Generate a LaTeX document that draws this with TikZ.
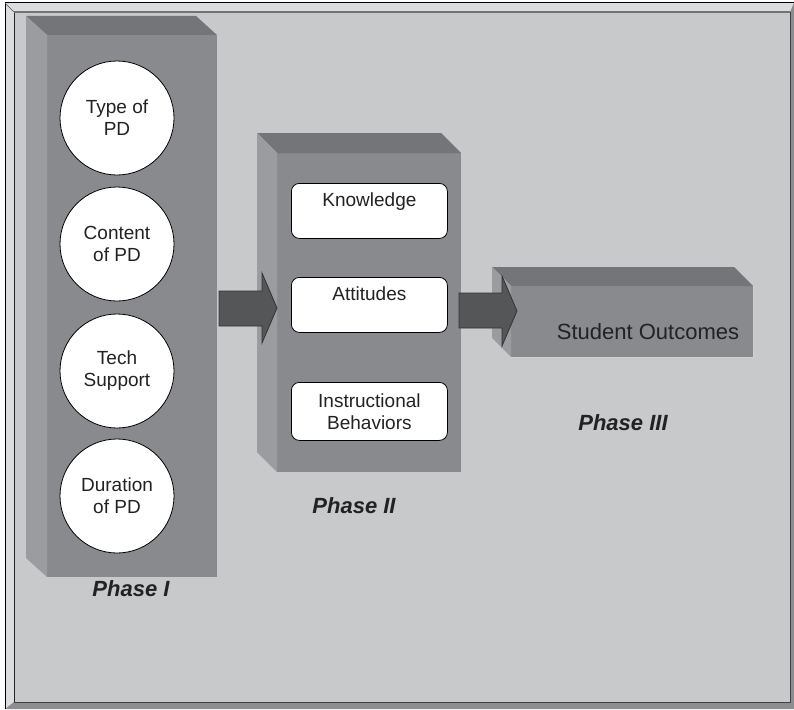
\documentclass[tikz,border=0pt]{standalone}
\usepackage{fontspec}
\setmainfont{Liberation Sans}
\usetikzlibrary{calc}
\definecolor{bg}{HTML}{C8C9CB}
\definecolor{bevlight}{HTML}{DCDDDF}
\definecolor{bevdark}{HTML}{8C8D90}
\definecolor{facefront}{HTML}{898A8D}
\definecolor{faceside}{HTML}{9B9C9F}
\definecolor{facetop}{HTML}{747578}
\definecolor{arrowfill}{HTML}{555658}
\definecolor{inktext}{HTML}{222222}
\begin{document}
\begin{tikzpicture}[x=1pt,y=-1pt,
  frontface/.style={fill=facefront, draw=none, inner sep=0pt, outer sep=0pt, anchor=north west},
  topface/.style={fill=facetop},
  sideface/.style={fill=faceside},
  factor/.style={circle, draw=black, line width=0.8pt, fill=white, minimum size=114pt,
    inner sep=0pt, align=center, font=\fontsize{19}{22}\selectfont, text=inktext},
  outcome/.style={rectangle, rounded corners=8pt, draw=black, line width=0.8pt, fill=white,
    minimum width=156pt, inner sep=0pt, align=center, font=\fontsize{19}{22}\selectfont, text=inktext},
  phaselabel/.style={font=\fontsize{22}{26}\selectfont\bfseries\itshape, text=inktext},
  blockarrow/.style={fill=arrowfill, draw=black!80, line width=0.8pt, line join=miter}
]
\useasboundingbox (0,0) rectangle (794,709);

% beveled frame
\fill[bevlight] (5,3) rectangle (794,709);
\fill[bevdark] (794,3) -- (794,709) -- (5,709) -- (14,702) -- (790,702) -- (790,12) -- cycle;
\fill[bg] (14,12) rectangle (790,702);
\draw[black, line width=1pt] (5,709) -- (5,3) -- (794,3);
\draw[black!70, line width=0.6pt] (5,3) -- (14,12);
\draw[black!85, line width=1pt] (14,702) -- (14,12);
\draw[black!55, line width=1.2pt] (14,12) -- (790,12);
\draw[black!75, line width=1pt] (790,12) -- (790,702) -- (14,702);

% Phase I block
\node[frontface, minimum width=170pt, minimum height=542pt] (p1) at (47,35) {};
\fill[topface] (26,16) -- (196,16) -- (p1.north east) -- (p1.north west) -- cycle;
\fill[sideface] (26,16) -- (p1.north west) -- (p1.south west) -- (26,558) -- cycle;

% Phase II block
\node[frontface, minimum width=184pt, minimum height=319pt] (p2) at (277,153) {};
\fill[topface] (257,133) -- (441,133) -- (p2.north east) -- (p2.north west) -- cycle;
\fill[sideface] (257,133) -- (p2.north west) -- (p2.south west) -- (257,452) -- cycle;

% Phase III block
\node[frontface, minimum width=242pt, minimum height=71pt] (p3) at (511,286) {};
\fill[topface] (492,267) -- (734,267) -- (p3.north east) -- (p3.north west) -- cycle;
\fill[sideface] (492,267) -- (p3.north west) -- (p3.south west) -- (492,338) -- cycle;
\draw[white!60!facefront, line width=0.8pt] (p3.north east) -- (p3.south east) -- (p3.south west);

% Phase I factors
\node[factor] (type) at (117,118) {Type of\\PD};
\node[factor] (content) at (117,244) {Content\\of PD};
\node[factor] (tech) at (117,371) {Tech\\Support};
\node[factor] (duration) at (117,496) {Duration\\of PD};

% Phase II outcomes
\node[outcome, minimum height=55pt, anchor=north west] (know) at (291,183) {Knowledge\\\mbox{}};
\node[outcome, minimum height=55pt, anchor=north west] (att) at (291,277) {Attitudes\\\mbox{}};
\node[outcome, minimum height=58pt, anchor=north west] (instr) at (291,382) {Instructional\\Behaviors};

% Phase III outcome
\node[font=\fontsize{22}{26}\selectfont, text=inktext] (student) at (648,332) {Student Outcomes};

% block arrows between phases
\draw[blockarrow] (219,291) -- (262,291) -- (262,273) -- (277,308) -- (262,343) -- (262,326) -- (219,326) -- cycle;
\draw[blockarrow] (459,293) -- (502,293) -- (502,276) -- (517,311) -- (502,346) -- (502,328) -- (459,328) -- cycle;

% phase labels
\node[phaselabel] (l1) at (131,589) {Phase I};
\node[phaselabel] (l2) at (354,506) {Phase II};
\node[phaselabel] (l3) at (623,423) {Phase III};
\end{tikzpicture}
\end{document}
